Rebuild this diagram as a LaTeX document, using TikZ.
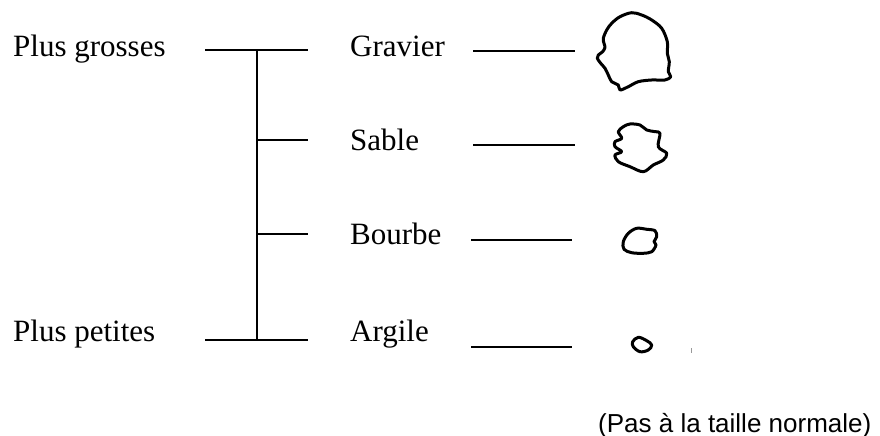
\documentclass[tikz,border=0pt]{standalone}
\usepackage{fontspec}
\setmainfont{Liberation Serif}
\setsansfont{Liberation Sans}
\usetikzlibrary{positioning}

\tikzset{
  mot/.style={anchor=base west,inner sep=0pt,font=\fontsize{31bp}{36bp}\selectfont},
  trait/.style={line width=2bp},
  grain/.style={line width=3bp,line join=round},
}

\begin{document}
\begin{tikzpicture}[x=1bp,y=-1bp,line cap=butt]
\path[use as bounding box] (0,0) rectangle (880,436);
% labels
\node[mot] (grosses) at (13,57) {Plus grosses};
\node[mot] (petites) at (13,342) {Plus petites};
\node[mot] (gravier) at (350,57) {Gravier};
\node[mot] (sable) at (350,151) {Sable};
\node[mot] (bourbe) at (350,245) {Bourbe};
\node[mot] (argile) at (350,342) {Argile};
\node[anchor=base west,inner sep=0pt,font=\sffamily\fontsize{26bp}{31bp}\selectfont] (note) at (598,432) {(Pas à la taille normale)};
% the tree
\coordinate (haut g) at (205,50);
\coordinate (haut d) at (308,50);
\coordinate (bas g) at (205,340);
\coordinate (bas d) at (308,340);
\coordinate (tronc haut) at (257,50);
\coordinate (tronc bas) at (257,340);
\coordinate (br sable) at (308,140);
\coordinate (br bourbe) at (308,234);
\draw[trait] (haut g) -- (haut d);
\draw[trait] (bas g) -- (bas d);
\draw[trait] (tronc haut) -- (tronc bas);
\draw[trait] (br sable -| tronc haut) -- (br sable);
\draw[trait] (br bourbe -| tronc haut) -- (br bourbe);
% lines to the grains
\coordinate (l gravier) at (473,51);
\coordinate (l sable) at (473,145);
\coordinate (l bourbe) at (471,240);
\coordinate (l argile) at (471,347);
\draw[trait] (l gravier) -- ++(102,0);
\draw[trait] (l sable) -- ++(102,0);
\draw[trait] (l bourbe) -- ++(101,0);
\draw[trait] (l argile) -- ++(101,0);
% grains
\draw[grain] plot[smooth cycle,tension=0.55] coordinates {
  (631.7,12.7) (641.7,15) (651.7,20) (661.7,28.3) (667.3,41.7) (667.3,53.3)
  (669.3,61.7) (668.3,71.7) (670.7,76.7) (665,80) (651.7,80) (638.3,81.7)
  (628.3,86.7) (620,90) (618.3,85) (611.7,81.7) (608.3,75) (605,68.3)
  (600.7,63.3) (597.3,58.3) (598.3,55) (602.7,51.7) (605,47.3) (604,43.3)
  (603.3,38.3) (606.7,30) (611.7,23.3) (620,16.7)};
\draw[grain] plot[smooth cycle,tension=0.55] coordinates {
  (630,124) (640,125) (646.7,130) (655,131.7) (660,133.3) (658.3,146.7)
  (666.7,153.3) (663.3,160) (653.3,165) (643.3,171.7) (630,166.7)
  (618.3,161.7) (615,155) (621.7,151.7) (615,146.7) (615,141.7)
  (621.7,138.3) (618.3,131.7) (623.3,126.7)};
\draw[grain] plot[smooth cycle,tension=0.55] coordinates {
  (636.7,228.3) (646.7,229.3) (655,230.7) (656.7,236.7) (654,241.7)
  (656,245) (651.7,251.7) (643.3,253.3) (631.7,252.7) (624,249.3)
  (623.3,241.7) (628.3,233.3)};
\draw[grain] plot[smooth cycle,tension=0.6] coordinates {
  (638.3,337.3) (646.7,340.7) (651.7,345) (648.3,350) (640,351.7)
  (633.3,346.7) (632.7,341.7)};
\draw[black!40,line width=0.8bp] (691,348.5) -- (691,353.5);
\end{tikzpicture}
\end{document}
